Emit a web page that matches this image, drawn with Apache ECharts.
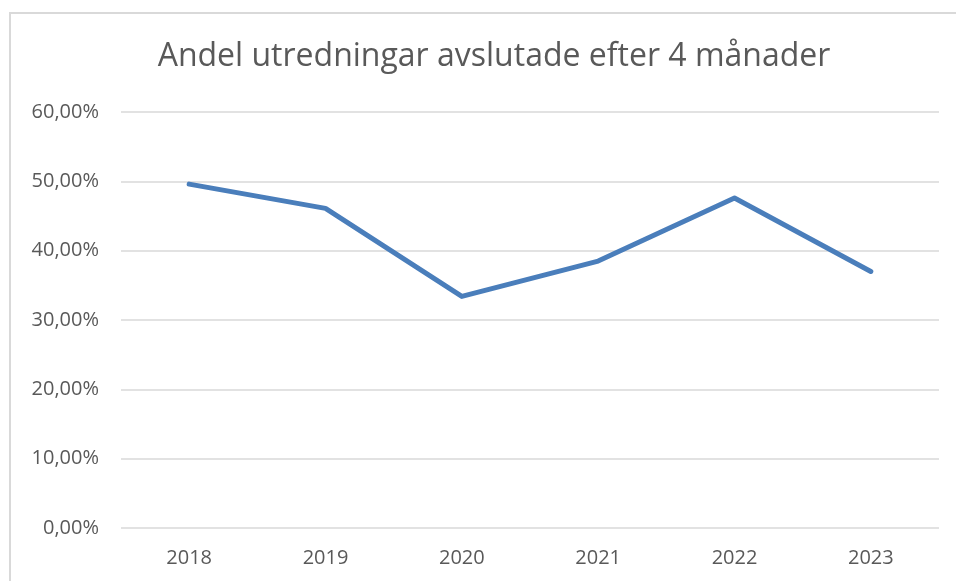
<!DOCTYPE html>
<html>
<head>
<meta charset="utf-8">
<script src="https://cdn.jsdelivr.net/npm/echarts@6/dist/echarts.min.js"></script>
<style>
  html, body { margin: 0; padding: 0; background: #fff; }
  #frame { position: absolute; left: 9px; top: 12px; width: 960px; height: 600px; border: 2px solid #d9d9d9; box-sizing: border-box; }
  #chart { position: absolute; left: 0; top: 0; width: 956px; height: 581px; }
</style>
</head>
<body>
<div id="frame"></div>
<div id="chart"></div>
<script>
// data
var years = ['2018', '2019', '2020', '2021', '2022', '2023']
var shareClosed = [49.6, 46.1, 33.4, 38.5, 47.6, 37.0]
var titleText = 'Andel utredningar avslutade efter 4 månader'

var chart = echarts.init(document.getElementById('chart'))
var option = {
  backgroundColor: 'transparent',
  animation: false,
  title: {
    text: titleText,
    left: 489,
    textAlign: 'center',
    top: 36,
    textStyle: {
      fontFamily: 'Open Sans',
      fontWeight: 'normal',
      fontSize: 32,
      color: '#595959'
    }
  },
  grid: { left: 121, right: 17, top: 112, bottom: 53 },
  xAxis: {
    type: 'category',
    data: years,
    boundaryGap: true,
    axisLine: { show: false },
    axisTick: { show: false },
    axisLabel: { color: '#595959', fontSize: 20, fontFamily: 'Open Sans', margin: 20 }
  },
  yAxis: {
    type: 'value',
    min: 0,
    max: 60,
    interval: 10,
    axisLine: { show: false },
    axisTick: { show: false },
    splitLine: { lineStyle: { color: '#d9d9d9', width: 1.5 } },
    axisLabel: {
      color: '#595959',
      fontSize: 20,
      fontFamily: 'Open Sans',
      margin: 22,
      formatter: function (v) { return v.toFixed(2).replace('.', ',') + '%' }
    }
  },
  series: [
    {
      type: 'line',
      data: shareClosed,
      symbol: 'none',
      lineStyle: { color: '#4a7ebb', width: 5, cap: 'round', join: 'round' }
    }
  ]
}
chart.setOption(option, true)
</script>
</body>
</html>
